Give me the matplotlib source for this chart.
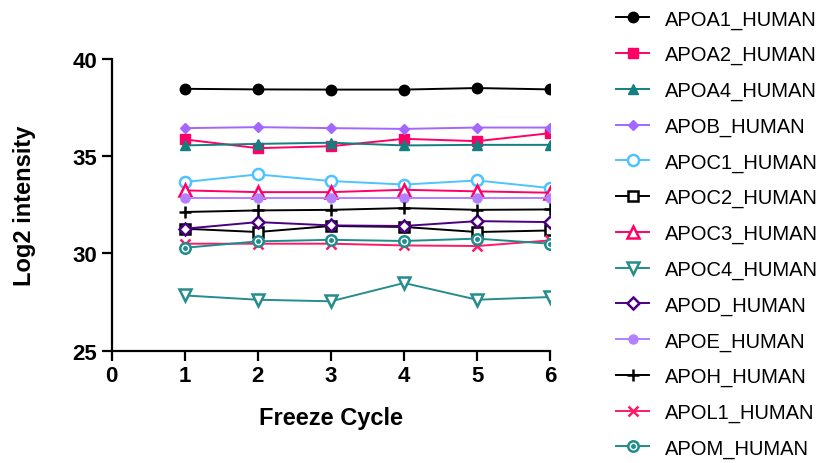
import numpy as np
import matplotlib
matplotlib.use('Agg')
from matplotlib import pyplot as plt

plt.rcParams['font.family'] = ['Liberation Sans', 'DejaVu Sans']

# 冻融循环次数
cycles = [1, 2, 3, 4, 5, 6]

# 各蛋白的 Log2 强度
apoa1 = [38.46, 38.43, 38.42, 38.42, 38.50, 38.43]
apoa2 = [35.86, 35.41, 35.51, 35.89, 35.77, 36.18]
apoa4 = [35.55, 35.63, 35.69, 35.55, 35.58, 35.58]
apob = [36.44, 36.49, 36.44, 36.40, 36.47, 36.47]
apoc1 = [33.67, 34.06, 33.72, 33.54, 33.75, 33.36]
apoc2 = [31.27, 31.10, 31.41, 31.36, 31.10, 31.18]
apoc3 = [33.24, 33.15, 33.15, 33.27, 33.19, 33.12]
apoc4 = [27.84, 27.62, 27.54, 28.48, 27.62, 27.76]
apod = [31.27, 31.61, 31.44, 31.41, 31.66, 31.61]
apoe = [32.84, 32.84, 32.84, 32.84, 32.84, 32.84]
apoh = [32.13, 32.21, 32.24, 32.33, 32.24, 32.26]
apol1 = [30.50, 30.50, 30.50, 30.41, 30.38, 30.67]
apom = [30.29, 30.62, 30.70, 30.64, 30.76, 30.50]

names = ['APOA1_HUMAN', 'APOA2_HUMAN', 'APOA4_HUMAN', 'APOB_HUMAN', 'APOC1_HUMAN',
         'APOC2_HUMAN', 'APOC3_HUMAN', 'APOC4_HUMAN', 'APOD_HUMAN', 'APOE_HUMAN',
         'APOH_HUMAN', 'APOL1_HUMAN', 'APOM_HUMAN']
series = [apoa1, apoa2, apoa4, apob, apoc1, apoc2, apoc3, apoc4, apod, apoe, apoh, apol1, apom]

# 样式: (颜色, 标记, 是否填充, 标记大小)
styles = [
    ('#000000', 'o', True, 7.5),
    ('#FF0066', 's', True, 7.5),
    ('#137F7F', '^', True, 7),
    ('#A366FF', 'D', True, 5.5),
    ('#4DC3FF', 'o', False, 8),
    ('#000000', 's', False, 7.5),
    ('#FF0066', '^', False, 8),
    ('#268C8C', 'v', False, 8),
    ('#4B0082', 'D', False, 6),
    ('#B380FF', 'o', True, 6.5),
    ('#000000', '+', False, 9),
    ('#FF1A66', 'x', False, 7.5),
    ('#1E8C8C', 'o', False, 7.5),
]

fig = plt.figure(figsize=(8.2, 4.64), dpi=100)
ax = fig.add_axes([0.136, 0.242, 0.535, 0.629])

handles = []
for name, vals, (c, m, filled, ms) in zip(names, series, styles):
    line, = ax.plot(cycles, vals, color=c, marker=m, markersize=ms, linewidth=1.4,
                    markerfacecolor=c if filled else 'white', markeredgecolor=c,
                    markeredgewidth=1.8 if not filled else 1.0, label=name)
    if name == 'APOM_HUMAN':
        dot, = ax.plot(cycles, vals, linestyle='none', marker='o', markersize=2.5, color=c)
        handles.append((line, dot))
    else:
        handles.append(line)

ax.set_xlim(0, 6)
ax.set_ylim(25, 40)
ax.set_xticks([0, 1, 2, 3, 4, 5, 6])
ax.set_yticks([25, 30, 35, 40])
for s in ['top', 'right']:
    ax.spines[s].set_visible(False)
for s in ['left', 'bottom']:
    ax.spines[s].set_linewidth(1.6)
ax.tick_params(width=1.6, length=7, labelsize=16)
for lb in ax.get_xticklabels() + ax.get_yticklabels():
    lb.set_fontweight('bold')
ax.set_xlabel('Freeze Cycle', fontsize=17, fontweight='bold', labelpad=14)
ax.set_ylabel('Log2 intensity', fontsize=17, fontweight='bold', labelpad=26)

fig.legend(handles, names, loc='upper left', bbox_to_anchor=(0.742, 0.995),
           frameon=False, fontsize=14.5, handlelength=1.6, handletextpad=0.8,
           labelspacing=0.82, borderaxespad=0)

fig.savefig('out.png', dpi=100)
